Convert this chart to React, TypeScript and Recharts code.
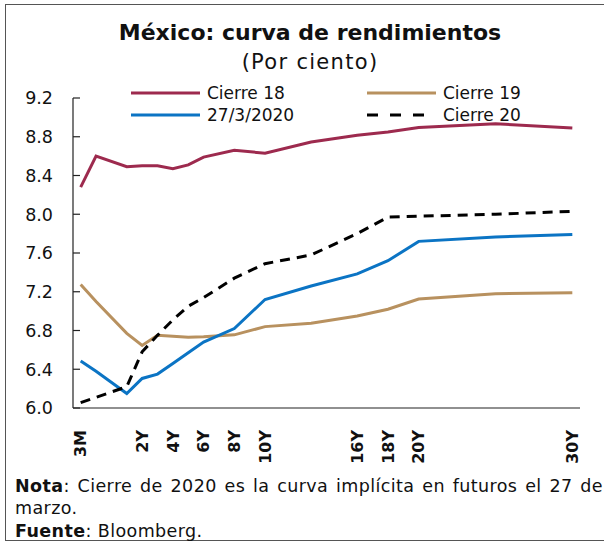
import React from "react";
import { LineChart, Line, XAxis, YAxis, Legend } from "recharts";

// maturity position on the axis (3M and 6M sit left of zero like the original)
const maturities = [-2, -1, 1, 2, 3, 4, 5, 6, 8, 10, 13, 16, 18, 20, 25, 30];
const cierre18 = [8.28, 8.6, 8.49, 8.5, 8.5, 8.47, 8.51, 8.59, 8.66, 8.63, 8.745, 8.815, 8.85, 8.895, 8.935, 8.89];
const cierre19 = [7.275, 7.1, 6.77, 6.645, 6.75, 6.74, 6.73, 6.735, 6.755, 6.84, 6.875, 6.95, 7.02, 7.125, 7.18, 7.19];
const marzo2020 = [6.485, 6.38, 6.15, 6.305, 6.35, 6.46, 6.57, 6.68, 6.82, 7.12, 7.26, 7.385, 7.52, 7.72, 7.765, 7.79];
const cierre20 = [6.055, 6.11, 6.22, 6.58, 6.75, 6.91, 7.05, 7.14, 7.34, 7.49, 7.58, 7.8, 7.97, 7.98, 8.0, 8.03];

const xTicks = [-2, 2, 4, 6, 8, 10, 16, 18, 20, 30];
const xTickLabels = ["3M", "2Y", "4Y", "6Y", "8Y", "10Y", "16Y", "18Y", "20Y", "30Y"];
const yTicks = [6.0, 6.4, 6.8, 7.2, 7.6, 8.0, 8.4, 8.8, 9.2];

const series = [
  { key: "c18", name: "Cierre 18", color: "#9d2a4e", dash: undefined, values: cierre18 },
  { key: "c19", name: "Cierre 19", color: "#b8915f", dash: undefined, values: cierre19 },
  { key: "m20", name: "27/3/2020", color: "#0b74c4", dash: undefined, values: marzo2020 },
  { key: "c20", name: "Cierre 20", color: "#000000", dash: "10 7", values: cierre20 },
];

const data = maturities.map((m, i) => {
  const row: any = { m };
  series.forEach((s) => (row[s.key] = s.values[i]));
  return row;
});

const FONT = "'DejaVu Sans', 'Noto Sans', sans-serif";

function YTick({ x, y, payload }: any) {
  return (
    <g>
      <line x1={x} x2={x + 7} y1={y} y2={y} stroke="#222" strokeWidth={1.2} />
      <text x={x - 20} y={y} dy="0.36em" textAnchor="end" fontSize={17.5} fill="#111" fontFamily={FONT}>
        {Number(payload.value).toFixed(1)}
      </text>
    </g>
  );
}

function XTick({ x, y, payload }: any) {
  const idx = xTicks.indexOf(payload.value);
  const ty = y + 14;
  return (
    <text
      x={x}
      y={ty}
      transform={`rotate(-90, ${x}, ${ty})`}
      textAnchor="end"
      dy="0.36em"
      fontSize={16}
      fontWeight={700}
      fill="#111"
      fontFamily={FONT}
    >
      {idx >= 0 ? xTickLabels[idx] : ""}
    </text>
  );
}

function LegendBox() {
  const cols = [
    [series[0], series[2]],
    [series[1], series[3]],
  ];
  return (
    <div style={{ position: "absolute", left: 131, top: 82, width: 440, fontFamily: FONT, fontSize: 17, color: "#111" }}>
      {cols.map((col, ci) =>
        col.map((s, ri) => (
          <div
            key={s.key}
            style={{ position: "absolute", left: ci * 236, top: ri * 22, display: "flex", alignItems: "center", whiteSpace: "nowrap" }}
          >
            <svg width={69} height={22}>
              <line x1={0} x2={s.dash ? 57 : 69} y1={11} y2={11} stroke={s.color} strokeWidth={3.2} strokeDasharray={s.dash ? "11 12" : undefined} />
            </svg>
            <span style={{ marginLeft: 7, lineHeight: "22px" }}>{s.name}</span>
          </div>
        ))
      )}
    </div>
  );
}

export default function App() {
  return (
    <div style={{ position: "fixed", left: 0, top: 0, width: 604, height: 542, overflow: "hidden", background: "#fff", fontFamily: FONT }}>
      <div style={{ position: "absolute", left: 5, top: 4, width: 640, height: 535, border: "1.5px solid #555" }} />
      <div style={{ position: "absolute", left: 0, top: 19.5, width: 620, textAlign: "center", fontSize: 22, lineHeight: "26px", fontWeight: 700, color: "#111", whiteSpace: "nowrap" }}>
        México: curva de rendimientos
      </div>
      <div style={{ position: "absolute", left: 0, top: 48.5, width: 620, textAlign: "center", fontSize: 21, letterSpacing: 1.3, lineHeight: "26px", color: "#111" }}>
        (Por ciento)
      </div>
      <div style={{ position: "absolute", left: 0, top: 0 }}>
        <LineChart width={604} height={542} data={data} margin={{ top: 98, right: 24, left: 13, bottom: 92 }}>
          <XAxis
            dataKey="m"
            type="number"
            domain={[-2.5, 30.5]}
            ticks={xTicks}
            interval={0}
            tickLine={false}
            tick={<XTick />}
            axisLine={{ stroke: "#222", strokeWidth: 1.2 }}
            height={42}
          />
          <YAxis
            type="number"
            domain={[6.0, 9.2]}
            ticks={yTicks}
            interval={0}
            tickLine={false}
            tickSize={0}
            tickMargin={0}
            tick={<YTick />}
            axisLine={{ stroke: "#222", strokeWidth: 1.2 }}
            width={60}
          />
          <Legend content={() => <LegendBox />} wrapperStyle={{ position: "absolute", left: 0, top: 0 }} />
          {series.map((s) => (
            <Line
              key={s.key}
              type="linear"
              dataKey={s.key}
              name={s.name}
              stroke={s.color}
              strokeWidth={3}
              strokeDasharray={s.dash}
              dot={false}
              isAnimationActive={false}
            />
          ))}
        </LineChart>
      </div>
      <div style={{ position: "absolute", left: 15, top: 475, width: 588, fontSize: 17.5, letterSpacing: 0.4, color: "#111", lineHeight: "22.3px" }}>
        <div style={{ whiteSpace: "nowrap", textAlign: "justify", textAlignLast: "justify" }}>
          <b style={{ fontWeight: 700 }}>Nota</b>: Cierre de 2020 es la curva implícita en futuros el 27 de
        </div>
        <div>marzo.</div>
        <div>
          <b style={{ fontWeight: 700 }}>Fuente</b>: Bloomberg.
        </div>
      </div>
    </div>
  );
}
